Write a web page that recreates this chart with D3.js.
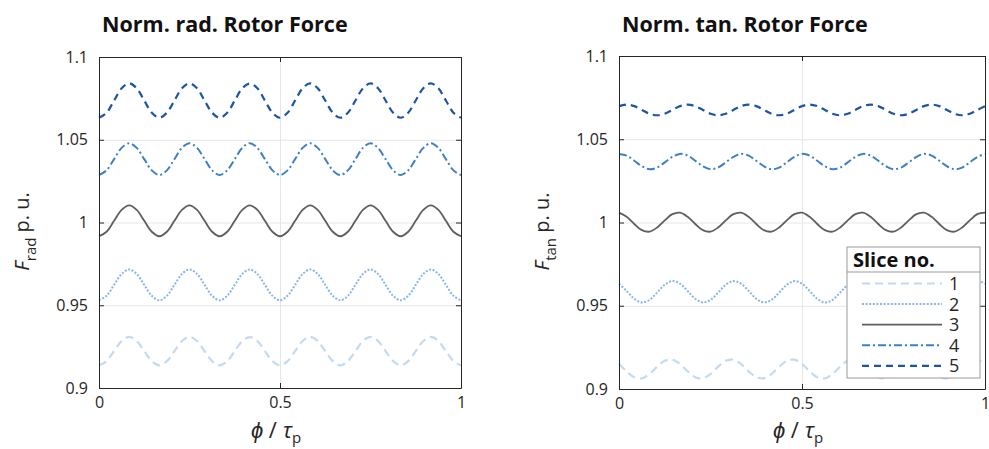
<!DOCTYPE html>
<html lang="en">
<head>
<meta charset="UTF-8">
<title>Norm. Rotor Force</title>
<script src="https://d3js.org/d3.v7.min.js"></script>
<style>
  body { margin: 0; background: #fff; font-family: 'Open Sans', sans-serif; }
  svg text { fill: #262626; }
  .title { font-weight: bold; font-size: 21.5px; fill: #111; }
  .tick text { font-size: 16px; font-family: 'Open Sans', sans-serif; fill: #262626; }
  .frame .domain, .frame line { stroke: #262626; }
  .grid line { stroke: #e6e6e6; }
  .grid .domain { display: none; }
</style>
</head>
<body>
<svg id="chart" width="989" height="449"></svg>
<script>
// sample grid over one pole pitch, 48 steps
const phiStep = 1 / 48;

const sliceLabels = ["1", "2", "3", "4", "5"];
const xTicks = [0, 0.5, 1];
const yTicks = [0.9, 0.95, 1, 1.05, 1.1];

// radial force per slice (p.u.)
const radSlice1 = [
  0.9137,0.9162,0.9223,0.9284,0.9309,0.9284,0.9223,0.9162,
  0.9137,0.9162,0.9223,0.9284,0.9309,0.9284,0.9223,0.9162,
  0.9137,0.9162,0.9223,0.9284,0.9308,0.9284,0.9223,0.9162,
  0.9137,0.9162,0.9223,0.9284,0.9309,0.9284,0.9223,0.9162,
  0.9137,0.9162,0.9223,0.9284,0.9309,0.9284,0.9223,0.9162,
  0.9137,0.9162,0.9223,0.9284,0.9309,0.9284,0.9223,0.9162,
  0.9137];
const radSlice2 = [
  0.9530,0.9557,0.9623,0.9689,0.9716,0.9689,0.9623,0.9557,
  0.9530,0.9557,0.9623,0.9689,0.9716,0.9689,0.9623,0.9557,
  0.9530,0.9557,0.9623,0.9689,0.9716,0.9689,0.9623,0.9557,
  0.9530,0.9557,0.9623,0.9689,0.9716,0.9689,0.9623,0.9557,
  0.9530,0.9557,0.9623,0.9689,0.9716,0.9689,0.9623,0.9557,
  0.9530,0.9557,0.9623,0.9689,0.9716,0.9689,0.9623,0.9557,
  0.9530];
const radSlice3 = [
  0.9917,0.9944,1.0010,1.0076,1.0103,1.0076,1.0010,0.9944,
  0.9917,0.9944,1.0010,1.0076,1.0103,1.0076,1.0010,0.9944,
  0.9917,0.9944,1.0010,1.0076,1.0103,1.0076,1.0010,0.9944,
  0.9917,0.9944,1.0010,1.0076,1.0103,1.0076,1.0010,0.9944,
  0.9917,0.9944,1.0010,1.0076,1.0103,1.0076,1.0010,0.9944,
  0.9917,0.9944,1.0010,1.0076,1.0103,1.0076,1.0010,0.9944,
  0.9917];
const radSlice4 = [
  1.0287,1.0315,1.0383,1.0451,1.0479,1.0451,1.0383,1.0315,
  1.0287,1.0315,1.0383,1.0451,1.0479,1.0451,1.0383,1.0315,
  1.0287,1.0315,1.0383,1.0451,1.0479,1.0451,1.0383,1.0315,
  1.0287,1.0315,1.0383,1.0451,1.0479,1.0451,1.0383,1.0315,
  1.0287,1.0315,1.0383,1.0451,1.0479,1.0451,1.0383,1.0315,
  1.0287,1.0315,1.0383,1.0451,1.0479,1.0451,1.0383,1.0315,
  1.0287];
const radSlice5 = [
  1.0633,1.0663,1.0737,1.0811,1.0841,1.0811,1.0737,1.0663,
  1.0633,1.0663,1.0737,1.0811,1.0841,1.0811,1.0737,1.0663,
  1.0633,1.0663,1.0737,1.0811,1.0839,1.0811,1.0737,1.0663,
  1.0633,1.0663,1.0737,1.0811,1.0841,1.0811,1.0737,1.0663,
  1.0633,1.0663,1.0737,1.0811,1.0841,1.0811,1.0737,1.0663,
  1.0633,1.0663,1.0737,1.0811,1.0841,1.0811,1.0737,1.0663,
  1.0633];

// tangential force per slice (p.u.)
const tanSlice1 = [
  0.9150,0.9106,0.9071,0.9064,0.9090,0.9134,0.9169,0.9176,
  0.9150,0.9106,0.9071,0.9064,0.9090,0.9134,0.9169,0.9176,
  0.9150,0.9106,0.9071,0.9064,0.9090,0.9134,0.9169,0.9176,
  0.9150,0.9106,0.9071,0.9064,0.9090,0.9134,0.9169,0.9176,
  0.9150,0.9106,0.9071,0.9064,0.9090,0.9134,0.9169,0.9176,
  0.9150,0.9106,0.9071,0.9064,0.9090,0.9134,0.9169,0.9176,
  0.9150];
const tanSlice2 = [
  0.9633,0.9589,0.9542,0.9520,0.9535,0.9579,0.9626,0.9648,
  0.9633,0.9589,0.9542,0.9520,0.9535,0.9579,0.9626,0.9648,
  0.9633,0.9589,0.9542,0.9520,0.9535,0.9579,0.9626,0.9648,
  0.9633,0.9589,0.9542,0.9520,0.9535,0.9579,0.9626,0.9648,
  0.9633,0.9589,0.9542,0.9520,0.9535,0.9579,0.9626,0.9648,
  0.9633,0.9589,0.9542,0.9520,0.9535,0.9579,0.9626,0.9648,
  0.9633];
const tanSlice3 = [
  1.0059,1.0034,0.9991,0.9954,0.9945,0.9970,1.0013,1.0050,
  1.0059,1.0034,0.9991,0.9954,0.9945,0.9970,1.0013,1.0050,
  1.0059,1.0034,0.9991,0.9954,0.9945,0.9970,1.0013,1.0050,
  1.0059,1.0034,0.9991,0.9954,0.9945,0.9970,1.0013,1.0050,
  1.0059,1.0034,0.9991,0.9954,0.9945,0.9970,1.0013,1.0050,
  1.0059,1.0034,0.9991,0.9954,0.9945,0.9970,1.0013,1.0050,
  1.0059];
const tanSlice4 = [
  1.0412,1.0402,1.0371,1.0338,1.0320,1.0330,1.0361,1.0394,
  1.0412,1.0402,1.0371,1.0338,1.0320,1.0330,1.0361,1.0394,
  1.0412,1.0402,1.0371,1.0338,1.0320,1.0330,1.0361,1.0394,
  1.0412,1.0402,1.0371,1.0338,1.0320,1.0330,1.0361,1.0394,
  1.0412,1.0402,1.0371,1.0338,1.0320,1.0330,1.0361,1.0394,
  1.0412,1.0402,1.0371,1.0338,1.0320,1.0330,1.0361,1.0394,
  1.0412];
const tanSlice5 = [
  1.0699,1.0708,1.0699,1.0676,1.0653,1.0644,1.0653,1.0676,
  1.0699,1.0708,1.0699,1.0676,1.0653,1.0644,1.0653,1.0676,
  1.0699,1.0708,1.0699,1.0676,1.0653,1.0644,1.0653,1.0676,
  1.0699,1.0708,1.0699,1.0676,1.0653,1.0644,1.0653,1.0676,
  1.0699,1.0708,1.0699,1.0676,1.0653,1.0644,1.0653,1.0676,
  1.0699,1.0708,1.0699,1.0676,1.0653,1.0644,1.0653,1.0676,
  1.0699];

const styles = [
  { color: "#c3daf1", dash: "8,5",     width: 2.2 },
  { color: "#86b7e8", dash: "2,1.6",   width: 2 },
  { color: "#5e5e5e", dash: null,      width: 1.8 },
  { color: "#3f80c2", dash: "8,3,2,3", width: 2 },
  { color: "#1c56a3", dash: "7,5",     width: 2.2 }
];

const panels = [
  { title: "Norm. rad. Rotor Force", sub: "rad", x0: 99, x1: 461, y0: 57, y1: 388,
    series: [radSlice1, radSlice2, radSlice3, radSlice4, radSlice5], legend: false },
  { title: "Norm. tan. Rotor Force", sub: "tan", x0: 619, x1: 985, y0: 56, y1: 389,
    series: [tanSlice1, tanSlice2, tanSlice3, tanSlice4, tanSlice5], legend: true }
];

const svg = d3.select("#chart");

panels.forEach(p => {
  const x = d3.scaleLinear().domain([0, 1]).range([p.x0, p.x1]);
  const y = d3.scaleLinear().domain([0.9, 1.1]).range([p.y1, p.y0]);
  const w = p.x1 - p.x0, h = p.y1 - p.y0;
  const g = svg.append("g");

  // grid
  g.append("g").attr("class", "grid")
    .attr("transform", `translate(0,${p.y1})`)
    .call(d3.axisBottom(x).tickValues(xTicks).tickSize(-h).tickFormat(""));
  g.append("g").attr("class", "grid")
    .attr("transform", `translate(${p.x0},0)`)
    .call(d3.axisLeft(y).tickValues(yTicks).tickSize(-w).tickFormat(""));

  // lines
  const line = d3.line()
    .x((d, i) => x(i * phiStep))
    .y(d => y(d))
    .curve(d3.curveCatmullRom);
  p.series.forEach((s, i) => {
    g.append("path")
      .datum(s)
      .attr("d", line)
      .attr("fill", "none")
      .attr("stroke", styles[i].color)
      .attr("stroke-width", styles[i].width)
      .attr("stroke-dasharray", styles[i].dash);
  });

  // box axes with inward ticks
  g.append("g").attr("class", "frame")
    .attr("transform", `translate(0,${p.y1})`)
    .call(d3.axisBottom(x).tickValues(xTicks).tickSizeInner(-5).tickSizeOuter(0)
      .tickPadding(9).tickFormat(d3.format("")));
  g.append("g").attr("class", "frame")
    .attr("transform", `translate(0,${p.y0})`)
    .call(d3.axisTop(x).tickValues(xTicks).tickSizeInner(-5).tickSizeOuter(0).tickFormat(""));
  g.append("g").attr("class", "frame")
    .attr("transform", `translate(${p.x0},0)`)
    .call(d3.axisLeft(y).tickValues(yTicks).tickSizeInner(-5).tickSizeOuter(0)
      .tickPadding(11).tickFormat(d3.format("")));
  g.append("g").attr("class", "frame")
    .attr("transform", `translate(${p.x1},0)`)
    .call(d3.axisRight(y).tickValues(yTicks).tickSizeInner(-5).tickSizeOuter(0).tickFormat(""));

  // title
  svg.append("text").attr("class", "title")
    .attr("x", p.x0 + 3).attr("y", 32)
    .text(p.title);

  // x label
  const xl = svg.append("text")
    .attr("x", (p.x0 + p.x1) / 2 - 4).attr("y", 438)
    .attr("text-anchor", "middle")
    .style("font-size", "22px");
  xl.append("tspan").style("font-style", "italic").text("\u03d5");
  xl.append("tspan").text(" / ");
  xl.append("tspan").style("font-style", "italic").text("\u03c4");
  xl.append("tspan").attr("dy", 5).style("font-size", "15px").text("p");

  // y label
  const yl = svg.append("text")
    .attr("transform", `translate(${p.x0 - 70},${(p.y0 + p.y1) / 2 + 9}) rotate(-90)`)
    .attr("text-anchor", "middle")
    .style("font-size", "20px");
  yl.append("tspan").style("font-style", "italic").text("F");
  yl.append("tspan").attr("dy", 7).style("font-size", "15px").text(p.sub);
  yl.append("tspan").attr("dy", -7).text(" p. u.");

  if (p.legend) {
    const lg = svg.append("g");
    lg.append("rect")
      .attr("x", 847).attr("y", 247).attr("width", 133).attr("height", 131)
      .attr("fill", "#fff").attr("stroke", "#9a9a9a").attr("stroke-width", 1);
    lg.append("line")
      .attr("x1", 847).attr("x2", 980).attr("y1", 272).attr("y2", 272)
      .attr("stroke", "#9a9a9a");
    lg.append("text")
      .attr("x", 853).attr("y", 267)
      .style("font-weight", "bold").style("font-size", "20px").style("fill", "#111")
      .text("Slice no.");
    sliceLabels.forEach((lab, i) => {
      const yy = 283.5 + i * 20.6;
      lg.append("line")
        .attr("x1", 862).attr("x2", 942).attr("y1", yy).attr("y2", yy)
        .attr("stroke", styles[i].color)
        .attr("stroke-width", styles[i].width)
        .attr("stroke-dasharray", styles[i].dash);
      lg.append("text")
        .attr("x", 949).attr("y", yy)
        .attr("dy", "0.36em")
        .style("font-size", "18px")
        .text(lab);
    });
  }
});
</script>
</body>
</html>
